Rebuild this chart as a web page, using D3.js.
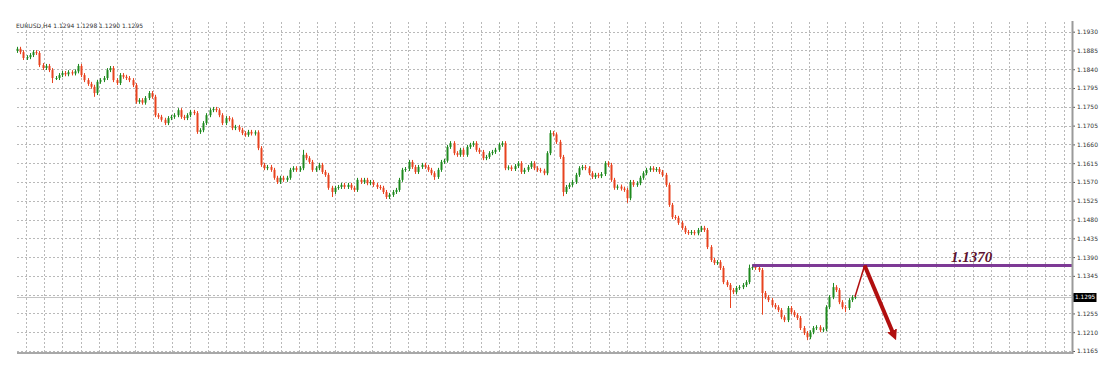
<!DOCTYPE html>
<html lang="en">
<head>
<meta charset="UTF-8">
<title>EURUSD H4</title>
<script src="https://cdnjs.cloudflare.com/ajax/libs/d3/7.8.5/d3.min.js"></script>
<style>
    body { margin: 0; background: #fff; overflow: hidden; }
    svg { display: block; font-family: "DejaVu Sans", sans-serif; }
</style>
</head>
<body>
<div id="chart"></div>
<script>
    // Header of the chart window
    const symbol = "EURUSD,H4";
    const lastQuote = [1.1294, 1.1298, 1.1290, 1.1295];

    // Price scale labels on the right
    const priceTicks = [1.1930, 1.1885, 1.1840, 1.1795, 1.1750, 1.1705, 1.1660, 1.1615, 1.1570,
        1.1525, 1.1480, 1.1435, 1.1390, 1.1345, 1.1300, 1.1255, 1.1210, 1.1165];
    const currentPrice = 1.1295;

    // H4 candles: open of the first bar, then the close of every bar (next bar opens at it)
    const firstOpen = 1.1884;
    const closes = [
        1.1889, 1.1881, 1.1867, 1.1869, 1.1874, 1.1881, 1.1879, 1.1850, 1.1843, 1.1848,
        1.1838, 1.1819, 1.1819, 1.1826, 1.1831, 1.1828, 1.1833, 1.1830, 1.1835, 1.1848,
        1.1826, 1.1814, 1.1805, 1.1798, 1.1783, 1.1810, 1.1814, 1.1819, 1.1838, 1.1843,
        1.1814, 1.1807, 1.1826, 1.1822, 1.1819, 1.1814, 1.1802, 1.1762, 1.1766, 1.1760,
        1.1771, 1.1783, 1.1774,
        1.1730, 1.1726, 1.1719, 1.1711, 1.1723, 1.1726, 1.1730, 1.1742, 1.1726, 1.1723,
        1.1730, 1.1738, 1.1735, 1.1690, 1.1694, 1.1711, 1.1730, 1.1742, 1.1745, 1.1742,
        1.1730, 1.1711, 1.1723, 1.1720, 1.1699, 1.1702, 1.1695, 1.1687, 1.1683, 1.1690,
        1.1686, 1.1689, 1.1651, 1.1611, 1.1603, 1.1606, 1.1599, 1.1580, 1.1570,
        1.1580, 1.1575, 1.1580, 1.1599, 1.1603, 1.1599, 1.1603, 1.1635, 1.1627, 1.1618,
        1.1599, 1.1603, 1.1611, 1.1594, 1.1587, 1.1556, 1.1546, 1.1556, 1.1558, 1.1563,
        1.1558, 1.1563, 1.1556, 1.1551, 1.1575, 1.1570, 1.1575, 1.1567, 1.1570, 1.1563,
        1.1558, 1.1556, 1.1546, 1.1534, 1.1539, 1.1546, 1.1551, 1.1575, 1.1599, 1.1601,
        1.1618, 1.1606, 1.1594, 1.1606,
        1.1611, 1.1606, 1.1599, 1.1591, 1.1582, 1.1599, 1.1618, 1.1621, 1.1654, 1.1663,
        1.1639, 1.1635, 1.1647, 1.1635, 1.1654, 1.1659, 1.1663, 1.1647, 1.1642, 1.1627,
        1.1630, 1.1639, 1.1642, 1.1647, 1.1659, 1.1663, 1.1603, 1.1605, 1.1601, 1.1608,
        1.1615, 1.1594, 1.1599, 1.1606, 1.1615, 1.1603, 1.1599, 1.1597, 1.1591, 1.1639,
        1.1687, 1.1684, 1.1666, 1.1630, 1.1546,
        1.1558, 1.1563, 1.1570, 1.1587, 1.1603, 1.1606, 1.1603, 1.1591, 1.1582, 1.1587,
        1.1584, 1.1589, 1.1615, 1.1611, 1.1575, 1.1556, 1.1559, 1.1554, 1.1551, 1.1531,
        1.1570, 1.1563, 1.1567, 1.1580, 1.1591, 1.1599, 1.1603, 1.1599, 1.1601, 1.1594,
        1.1587, 1.1563, 1.1515, 1.1486, 1.1484, 1.1472, 1.1460, 1.1450, 1.1448, 1.1450,
        1.1447, 1.1455, 1.1460, 1.1455, 1.1414,
        1.1383, 1.1376, 1.1378, 1.1364, 1.1330, 1.1323, 1.1311, 1.1306, 1.1316, 1.1318,
        1.1323, 1.1330, 1.1364, 1.1366, 1.1364, 1.1359, 1.1304, 1.1294, 1.1287, 1.1275,
        1.1270, 1.1263, 1.1246, 1.1239, 1.1268, 1.1258, 1.1251, 1.1244, 1.1220, 1.1208,
        1.1198, 1.1210, 1.1220, 1.1222, 1.1215, 1.1217, 1.1270, 1.1294, 1.1318, 1.1311,
        1.1282, 1.1270, 1.1268, 1.1287, 1.1294, 1.1295
    ];

    // Bars whose shadows stick out well past the body: [bar index, high, low]
    const spikes = [
        [11, null, 1.1807], [24, null, 1.1774], [89, 1.1647, null], [98, null, 1.1534],
        [130, null, 1.1575], [166, 1.1694, null], [170, null, 1.1536], [190, null, 1.1520],
        [222, null, 1.1268], [228, 1.1372, null], [229, 1.1372, null], [232, null, 1.1252],
        [246, null, 1.1191], [254, 1.1328, null], [258, null, 1.1258]
    ];

    // Drawn analysis: resistance level and projected move [bar index, price]
    const levelPrice = 1.1370;
    const levelFromBar = 229;
    const levelLabel = "1.1370";
    const projection = [[261, 1.1295], [264, 1.1370], [274, 1.1187]];

    const width = 1100;
    const height = 365;
    const plotLeft = 17;
    const plotRight = 1072;
    const plotTop = 22;
    const plotBottom = 353;

    const candles = closes.map((c, i) => {
        const o = i === 0 ? firstOpen : closes[i - 1];
        return { i, o, c, h: null, l: null };
    });
    spikes.forEach(([i, h, l]) => {
        if (h !== null) candles[i].h = h;
        if (l !== null) candles[i].l = l;
    });

    const x = d3.scaleLinear().domain([0, closes.length - 1]).range([plotLeft, 855]);
    const y = d3.scaleLinear().domain([1.1165, 1.1930]).range([351, 31.7]);

    const svg = d3.select("#chart")
        .append("svg")
        .attr("width", width)
        .attr("height", height);

    // Grid: dotted lines, vertical ones once per trading day (6 bars)
    const grid = svg.append("g")
        .attr("stroke", "#b9b9b9")
        .attr("stroke-width", 1)
        .attr("stroke-dasharray", "2,2");

    grid.selectAll("line.h")
        .data(priceTicks)
        .join("line")
        .attr("class", "h")
        .attr("x1", plotLeft)
        .attr("x2", plotRight)
        .attr("y1", d => Math.round(y(d)) + 0.5)
        .attr("y2", d => Math.round(y(d)) + 0.5);

    const dayLines = d3.range(2.8, 330, 5.67).filter(d => x(d) < plotRight - 4);
    grid.selectAll("line.v")
        .data(dayLines)
        .join("line")
        .attr("class", "v")
        .attr("x1", d => Math.round(x(d)) + 0.5)
        .attr("x2", d => Math.round(x(d)) + 0.5)
        .attr("y1", plotTop)
        .attr("y2", plotBottom - 1);

    // Current bid line
    svg.append("line")
        .attr("x1", plotLeft)
        .attr("x2", plotRight)
        .attr("y1", Math.round(y(currentPrice)) + 0.5)
        .attr("y2", Math.round(y(currentPrice)) + 0.5)
        .attr("stroke", "#c4c4c4")
        .attr("stroke-width", 1);

    // Candles
    const upColor = "#1f8a1f";
    const downColor = "#e8431f";
    const wickPx = 2;

    const bar = svg.append("g")
        .selectAll("g")
        .data(candles)
        .join("g")
        .attr("fill", d => d.c >= d.o ? upColor : downColor)
        .attr("stroke", d => d.c >= d.o ? upColor : downColor);

    bar.append("line")
        .attr("x1", d => Math.round(x(d.i)) + 0.5)
        .attr("x2", d => Math.round(x(d.i)) + 0.5)
        .attr("y1", d => d.h !== null ? y(d.h) : y(Math.max(d.o, d.c)) - wickPx)
        .attr("y2", d => d.l !== null ? y(d.l) : y(Math.min(d.o, d.c)) + wickPx)
        .attr("stroke-width", 1);

    bar.append("rect")
        .attr("x", d => Math.round(x(d.i)) - 0.5)
        .attr("width", 2)
        .attr("y", d => y(Math.max(d.o, d.c)))
        .attr("height", d => Math.max(1, y(Math.min(d.o, d.c)) - y(Math.max(d.o, d.c))))
        .attr("stroke", "none");

    // Resistance level
    svg.append("line")
        .attr("x1", x(levelFromBar))
        .attr("x2", plotRight)
        .attr("y1", y(levelPrice))
        .attr("y2", y(levelPrice))
        .attr("stroke", "#7e3a96")
        .attr("stroke-width", 3);

    svg.append("text")
        .attr("x", 951)
        .attr("y", y(levelPrice) - 3)
        .attr("fill", "#5e1230")
        .style("font-family", "'Liberation Serif', 'DejaVu Serif', serif")
        .style("font-weight", "bold")
        .style("font-style", "italic")
        .style("font-size", "15px")
        .text(levelLabel);

    // Projected move: retest of the level, then down
    svg.append("defs").append("marker")
        .attr("id", "arrow")
        .attr("viewBox", "0 -5 10 10")
        .attr("refX", 4)
        .attr("refY", 0)
        .attr("markerWidth", 2.6)
        .attr("markerHeight", 2.6)
        .attr("orient", "auto")
        .append("path")
        .attr("d", "M0,-5L10,0L0,5Z")
        .attr("fill", "#b10f0f");

    const [p0, p1, p2] = projection;
    svg.append("line")
        .attr("x1", x(p0[0])).attr("y1", y(p0[1]))
        .attr("x2", x(p1[0])).attr("y2", y(p1[1]))
        .attr("stroke", "#b10f0f")
        .attr("stroke-width", 1.5);

    const ang = Math.atan2(y(p2[1]) - y(p1[1]), x(p2[0]) - x(p1[0]));
    svg.append("line")
        .attr("x1", x(p1[0])).attr("y1", y(p1[1]))
        .attr("x2", x(p2[0]) - 8 * Math.cos(ang)).attr("y2", y(p2[1]) - 8 * Math.sin(ang))
        .attr("stroke", "#b10f0f")
        .attr("stroke-width", 4)
        .attr("marker-end", "url(#arrow)");

    // Price axis
    const axis = svg.append("g")
        .attr("transform", `translate(${plotRight + 1},0)`)
        .call(d3.axisRight(y)
            .tickValues(priceTicks)
            .tickSize(2)
            .tickPadding(2)
            .tickFormat(d => Math.abs(d - currentPrice) < 0.0008 ? "" : d3.format(".4f")(d)));
    axis.select(".domain").remove();
    axis.selectAll(".tick line").attr("stroke", "#555");
    axis.selectAll(".tick text")
        .attr("fill", "#333")
        .style("font-size", "6px")
        .style("font-family", "'DejaVu Sans', sans-serif");

    svg.append("line")
        .attr("x1", plotRight + 0.5).attr("x2", plotRight + 0.5)
        .attr("y1", plotTop - 1).attr("y2", plotBottom + 1)
        .attr("stroke", "#9a9a9a")
        .attr("stroke-width", 2);

    svg.append("line")
        .attr("x1", plotLeft).attr("x2", plotRight)
        .attr("y1", plotBottom).attr("y2", plotBottom)
        .attr("stroke", "#a8a8a8")
        .attr("stroke-width", 2);

    // Current price tag
    const tagY = y(currentPrice);
    svg.append("rect")
        .attr("x", plotRight + 1.5)
        .attr("y", Math.round(tagY) - 4)
        .attr("width", 23)
        .attr("height", 9)
        .attr("fill", "#000");
    svg.append("text")
        .attr("x", plotRight + 3)
        .attr("y", tagY + 0.5)
        .attr("dominant-baseline", "middle")
        .attr("fill", "#fff")
        .style("font-size", "5.8px")
        .text(d3.format(".4f")(currentPrice));

    // Window header
    svg.append("text")
        .attr("x", 16)
        .attr("y", 28)
        .attr("fill", "#333")
        .style("font-size", "6px")
        .text(symbol + "  " + lastQuote.map(d3.format(".4f")).join(" "));
</script>
</body>
</html>
